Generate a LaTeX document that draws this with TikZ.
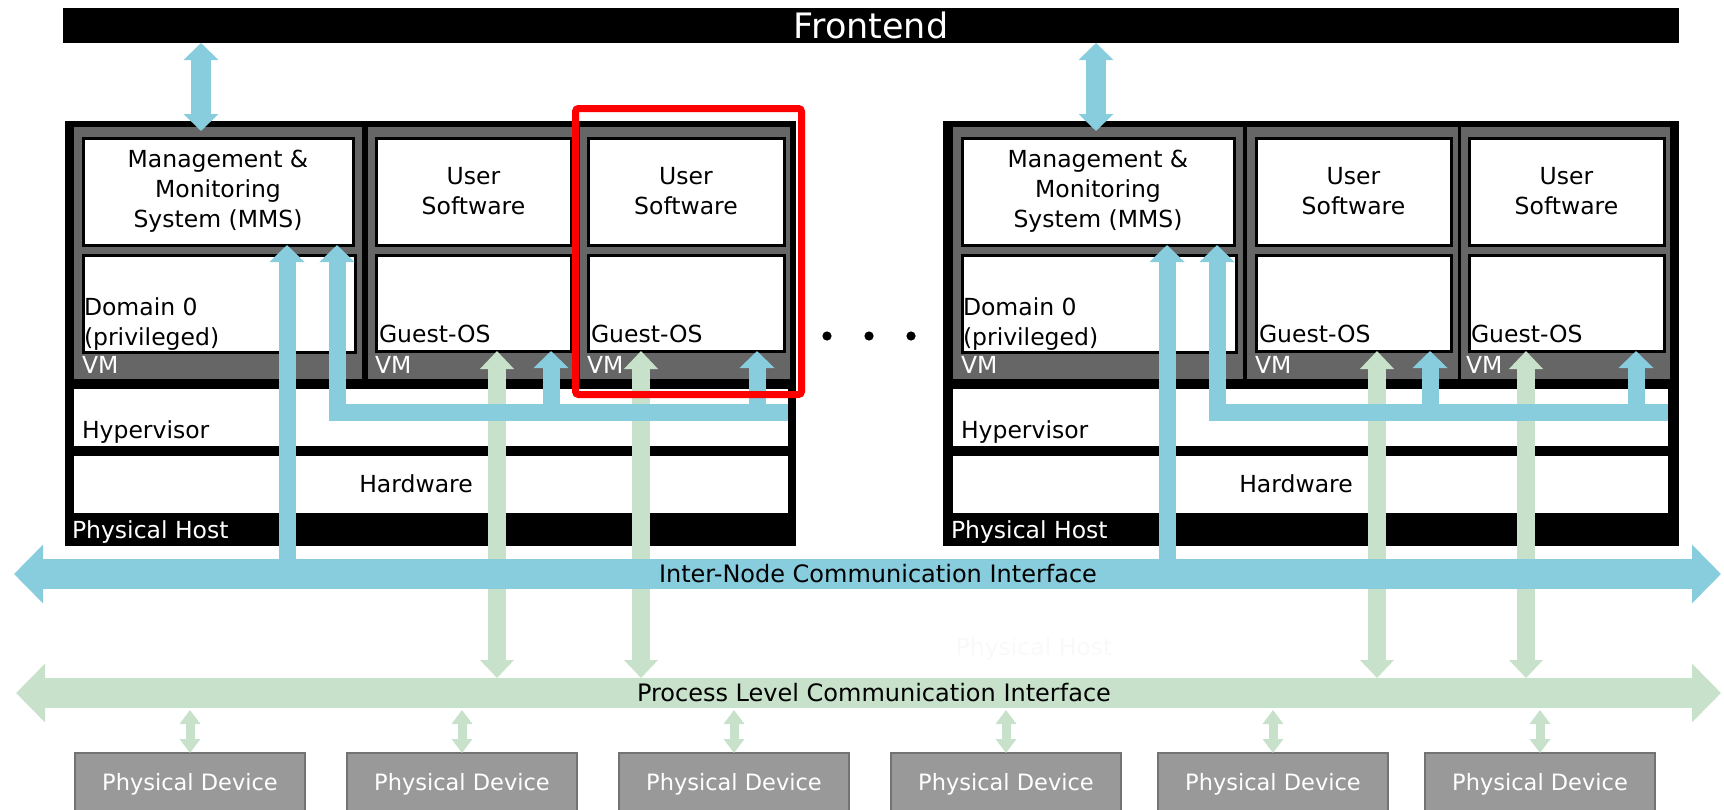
\documentclass[tikz,border=0pt]{standalone}
\usepackage{fontspec}
\setmainfont{DejaVu Sans}
\usetikzlibrary{arrows.meta}
\definecolor{iblue}{RGB}{135,205,222}
\definecolor{igreen}{RGB}{200,225,202}
\definecolor{vmgray}{RGB}{102,102,102}
\definecolor{devgray}{RGB}{153,153,153}
\definecolor{devedge}{RGB}{115,115,115}
\definecolor{faintgray}{RGB}{249,249,249}
\newcommand{\boxfont}{\fontsize{11.75}{15}\selectfont}
\newcommand{\rbox}[7][]{%
  \node[rectangle, inner sep=0pt, outer sep=0pt,
        minimum width={(#5-#3)*0.5pt}, minimum height={(#6-#4)*0.5pt}, #1]
        (#2) at ({(#3+#5)/2},{(#4+#6)/2}) {#7};}
\begin{document}
\begin{tikzpicture}[x=0.5pt,y=-0.5pt,
  hostfill/.style={fill=black},
  vmfill/.style={fill=vmgray},
  wbox/.style={fill=white,draw=black,line width=1.5pt,align=center,font=\boxfont},
  plainbox/.style={fill=white},
  devbox/.style={fill=devgray,draw=devedge,line width=0.6pt,text=white,font=\fontsize{11.25}{13}\selectfont},
  lbl/.style={inner sep=0pt,outer sep=0pt,font=\boxfont,align=left},
  wlbl/.style={lbl,text=white},
  buslbl/.style={inner sep=0pt,font=\fontsize{12}{14}\selectfont},
  dotnode/.style={circle,fill=black,inner sep=0pt,minimum size=4.6pt},
  fearrow/.style={draw=iblue,line width=10pt,{Triangle[length=8.5pt,width=17pt]}-{Triangle[length=8.5pt,width=17pt]}},
  barrow/.style={draw=iblue,line width=8.5pt,-{Triangle[length=8.5pt,width=17pt]}},
  garrow/.style={draw=igreen,line width=9pt,{Triangle[length=9pt,width=16.5pt]}-{Triangle[length=9pt,width=16.5pt]}},
  busarrow/.style={line width=15pt,{Triangle[length=14.5pt,width=28.5pt]}-{Triangle[length=14.5pt,width=28.5pt]}},
  smallarrow/.style={draw=igreen,line width=4.5pt,{Triangle[length=7pt,width=10pt]}-{Triangle[length=7pt,width=10pt]}}
]
\useasboundingbox (0,0) rectangle (1724,809);
\clip (0,0) rectangle (1724,809);

% Frontend
\rbox[hostfill,text=white,font=\fontsize{17.5}{20}\selectfont]{frontend}{63}{8}{1679}{43}{Frontend}

% ---------- Left host ----------
\rbox[hostfill]{hostL}{65}{121}{796}{546}{}
\rbox[vmfill]{vmL1}{74}{127}{362}{379}{}
\rbox[vmfill]{vmL2}{368}{127}{576}{379}{}
\rbox[vmfill]{vmL3}{580}{127}{790}{379}{}
\rbox[wbox]{mmsL}{83}{138}{353}{245}{Management \&\\Monitoring\\System (MMS)}
\rbox[wbox]{domL}{83}{255}{355}{352}{}
\rbox[wbox]{usL2}{376}{138}{571}{245}{User\\Software}
\rbox[wbox]{gosL2}{376}{255}{571}{351}{}
\rbox[wbox]{usL3}{588}{138}{784}{245}{User\\Software}
\rbox[wbox]{gosL3}{588}{255}{784}{351}{}
\rbox[plainbox]{hypL}{74}{389}{788}{446}{}
\rbox[plainbox]{hwL}{74}{456}{788}{513}{}
\node[lbl,anchor=north west] (domLt) at (84,298) {Domain 0\\(privileged)};
\node[lbl,anchor=base west] (gosL2t) at (379,342) {Guest-OS};
\node[lbl,anchor=base west] (gosL3t) at (591,342) {Guest-OS};
\node[wlbl,anchor=base west] (vmL1t) at (82,373) {VM};
\node[wlbl,anchor=base west] (vmL2t) at (375,373) {VM};
\node[wlbl,anchor=base west] (vmL3t) at (587,373) {VM};
\node[lbl,anchor=base west] (hypLt) at (82,438) {Hypervisor};
\node[lbl,anchor=base] (hwLt) at (416,492) {Hardware};
\node[wlbl,anchor=base west] (hostLt) at (72,538) {Physical Host};

% ---------- Right host ----------
\rbox[hostfill]{hostR}{943}{121}{1679}{546}{}
\rbox[vmfill]{vmR1}{953}{127}{1243}{379}{}
\rbox[vmfill]{vmR2}{1247}{127}{1458}{379}{}
\rbox[vmfill]{vmR3}{1461}{127}{1670}{379}{}
\rbox[wbox]{mmsR}{962}{138}{1234}{245}{Management \&\\Monitoring\\System (MMS)}
\rbox[wbox]{domR}{962}{255}{1236}{352}{}
\rbox[wbox]{usR2}{1256}{138}{1451}{245}{User\\Software}
\rbox[wbox]{gosR2}{1256}{255}{1451}{351}{}
\rbox[wbox]{usR3}{1469}{138}{1664}{245}{User\\Software}
\rbox[wbox]{gosR3}{1469}{255}{1664}{351}{}
\rbox[plainbox]{hypR}{953}{389}{1668}{446}{}
\rbox[plainbox]{hwR}{953}{456}{1668}{513}{}
\node[lbl,anchor=north west] (domRt) at (963,298) {Domain 0\\(privileged)};
\node[lbl,anchor=base west] (gosR2t) at (1259,342) {Guest-OS};
\node[lbl,anchor=base west] (gosR3t) at (1471,342) {Guest-OS};
\node[wlbl,anchor=base west] (vmR1t) at (961,373) {VM};
\node[wlbl,anchor=base west] (vmR2t) at (1255,373) {VM};
\node[wlbl,anchor=base west] (vmR3t) at (1466,373) {VM};
\node[lbl,anchor=base west] (hypRt) at (961,438) {Hypervisor};
\node[lbl,anchor=base] (hwRt) at (1296,492) {Hardware};
\node[wlbl,anchor=base west] (hostRt) at (951,538) {Physical Host};

% reference coordinates
\coordinate (ibusW) at (14,574);
\coordinate (ibusE) at (1721,574);
\coordinate (pbusW) at (16,693);
\coordinate (pbusE) at (1721,693);
\coordinate (ptop) at (0,678);
\coordinate (pbot) at (0,710);
\coordinate (yL) at (0,412.5);
\coordinate (feL) at (201,131);
\coordinate (feR) at (1096,131);
\coordinate (xLm) at (287,0);
\coordinate (xLl) at (337,0);
\coordinate (xLb1) at (551,0);
\coordinate (xLb2) at (757,0);
\coordinate (xLg1) at (497,0);
\coordinate (xLg2) at (641,0);
\coordinate (xRm) at (1167,0);
\coordinate (xRl) at (1217,0);
\coordinate (xRb1) at (1430,0);
\coordinate (xRb2) at (1636,0);
\coordinate (xRg1) at (1377,0);
\coordinate (xRg2) at (1526,0);

% green process-level arrows
\draw[garrow] (xLg1 |- gosL2.south) -- (xLg1 |- ptop);
\draw[garrow] (xLg2 |- gosL3.south) -- (xLg2 |- ptop);
\draw[garrow] (xRg1 |- gosR2.south) -- (xRg1 |- ptop);
\draw[garrow] (xRg2 |- gosR3.south) -- (xRg2 |- ptop);

% blue arrows, left host
\draw[barrow] (xLm |- ibusW) -- (xLm |- mmsL.south);
\draw[barrow,line join=miter] (hypL.east |- yL) -- (xLl |- yL) -- (xLl |- mmsL.south);
\draw[barrow] (xLb1 |- yL) -- (xLb1 |- gosL2.south);
\draw[barrow] (xLb2 |- yL) -- (xLb2 |- gosL3.south);

% blue arrows, right host
\draw[barrow] (xRm |- ibusW) -- (xRm |- mmsR.south);
\draw[barrow,line join=miter] (hypR.east |- yL) -- (xRl |- yL) -- (xRl |- mmsR.south);
\draw[barrow] (xRb1 |- yL) -- (xRb1 |- gosR2.south);
\draw[barrow] (xRb2 |- yL) -- (xRb2 |- gosR3.south);

% frontend arrows
\draw[fearrow] (feL |- frontend.south) -- (feL);
\draw[fearrow] (feR |- frontend.south) -- (feR);

% buses
\draw[busarrow,draw=iblue] (ibusW) -- (ibusE);
\node[buslbl] (ibuslbl) at (878,574) {Inter-Node Communication Interface};
\draw[busarrow,draw=igreen] (pbusW) -- (pbusE);
\node[buslbl] (pbuslbl) at (874,693) {Process Level Communication Interface};

% devices
\rbox[devbox]{dev1}{75}{753}{305}{815}{Physical Device}
\rbox[devbox]{dev2}{347}{753}{577}{815}{Physical Device}
\rbox[devbox]{dev3}{619}{753}{849}{815}{Physical Device}
\rbox[devbox]{dev4}{891}{753}{1121}{815}{Physical Device}
\rbox[devbox]{dev5}{1158}{753}{1388}{815}{Physical Device}
\rbox[devbox]{dev6}{1425}{753}{1655}{815}{Physical Device}
\foreach \d in {dev1,dev2,dev3,dev4,dev5,dev6}
  \draw[smallarrow] (\d.north |- pbot) -- (\d.north);

% highlight
\rbox[draw=red,line width=3.5pt,rounded corners=1.5pt]{focus}{575.5}{108.5}{801.5}{394.5}{}

% ellipsis dots
\node[dotnode] (dot1) at (827,336) {};
\node[dotnode] (dot2) at (869,336) {};
\node[dotnode] (dot3) at (911,336) {};

% faint ghost label
\node[lbl,text=faintgray] (ghost) at (1034,649) {Physical Host};
\end{tikzpicture}
\end{document}
